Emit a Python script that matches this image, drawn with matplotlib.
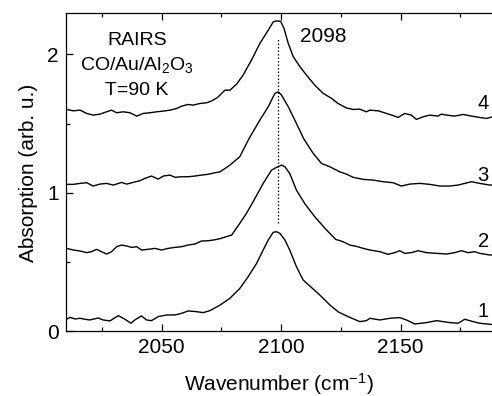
import matplotlib
matplotlib.use("Agg")
import matplotlib.pyplot as plt

plt.rcParams['font.family'] = ['Liberation Sans', 'DejaVu Sans']
plt.rcParams['mathtext.fontset'] = 'custom'
plt.rcParams['mathtext.rm'] = 'Liberation Sans'
plt.rcParams['mathtext.it'] = 'Liberation Sans:italic'

# spectra (wavenumber, absorption with offset)
wn1 = [2010.3, 2011.7, 2013.8, 2015.9, 2018.0, 2020.0, 2023.5, 2025.6, 2028.4, 2031.9,
       2034.7, 2037.2, 2038.8, 2041.6, 2043.7, 2045.8, 2048.6, 2052.1, 2055.6, 2058.4,
       2061.1, 2064.6, 2067.4, 2070.2, 2072.3, 2074.4, 2078.6, 2082.7, 2086.2, 2089.7,
       2092.5, 2094.6, 2096.7, 2098.1, 2099.5, 2101.6, 2103.6, 2106.4, 2109.2, 2112.0,
       2116.2, 2120.4, 2124.0, 2128.7, 2132.9, 2135.7, 2137.1, 2141.3, 2145.5, 2149.6,
       2152.4, 2155.9, 2160.8, 2165.0, 2170.5, 2174.0, 2176.8, 2180.3, 2183.1, 2187.3, 2188.5]
abs1 = [0.088, 0.102, 0.090, 0.095, 0.088, 0.083, 0.097, 0.083, 0.076, 0.114,
        0.088, 0.059, 0.083, 0.112, 0.083, 0.078, 0.107, 0.119, 0.119, 0.131,
        0.148, 0.143, 0.136, 0.150, 0.170, 0.190, 0.240, 0.310, 0.395, 0.490,
        0.588, 0.660, 0.716, 0.720, 0.708, 0.660, 0.588, 0.468, 0.372, 0.328,
        0.263, 0.191, 0.140, 0.102, 0.071, 0.078, 0.095, 0.083, 0.095, 0.100,
        0.083, 0.054, 0.064, 0.078, 0.064, 0.059, 0.088, 0.071, 0.059, 0.052, 0.050]

wn2 = [2010.3, 2013.1, 2015.9, 2018.7, 2020.7, 2022.8, 2024.9, 2027.0, 2029.1, 2031.2,
       2033.3, 2035.4, 2037.5, 2039.6, 2041.6, 2044.4, 2047.2, 2050.0, 2052.8, 2055.6,
       2058.4, 2061.1, 2063.9, 2066.7, 2069.5, 2072.3, 2074.4, 2079.3, 2082.7, 2085.5,
       2088.3, 2092.5, 2096.0, 2098.1, 2100.2, 2101.6, 2103.6, 2106.4, 2110.0, 2114.0,
       2118.3, 2122.8, 2125.9, 2128.7, 2132.0, 2134.3, 2137.1, 2141.3, 2144.7, 2147.5,
       2149.6, 2151.7, 2154.5, 2157.3, 2160.8, 2165.0, 2169.2, 2172.6, 2175.4, 2178.2,
       2181.0, 2183.1, 2187.3, 2188.5]
abs2 = [0.600, 0.588, 0.581, 0.569, 0.576, 0.593, 0.576, 0.559, 0.576, 0.612,
        0.624, 0.617, 0.607, 0.612, 0.588, 0.593, 0.600, 0.588, 0.600, 0.607,
        0.612, 0.624, 0.631, 0.653, 0.655, 0.662, 0.670, 0.696, 0.780, 0.853,
        0.937, 1.069, 1.165, 1.185, 1.201, 1.189, 1.141, 1.021, 0.920, 0.830,
        0.745, 0.665, 0.648, 0.624, 0.612, 0.600, 0.588, 0.576, 0.557, 0.569,
        0.583, 0.564, 0.569, 0.583, 0.569, 0.564, 0.559, 0.569, 0.583, 0.569,
        0.576, 0.564, 0.552, 0.552]

wn3 = [2010.3, 2013.1, 2015.9, 2018.7, 2021.4, 2024.2, 2027.0, 2029.8, 2033.3, 2035.4,
       2038.1, 2040.9, 2043.0, 2045.8, 2048.6, 2050.7, 2053.5, 2055.6, 2058.4, 2061.1,
       2063.9, 2066.7, 2069.5, 2072.3, 2074.4, 2078.6, 2082.7, 2086.5, 2091.1, 2094.6,
       2097.4, 2098.8, 2100.2, 2103.0, 2106.4, 2109.5, 2113.4, 2116.9, 2120.4, 2124.5,
       2127.3, 2130.1, 2134.3, 2138.5, 2142.7, 2146.8, 2150.3, 2153.8, 2158.0, 2162.2,
       2166.4, 2170.5, 2174.0, 2176.8, 2179.6, 2183.1, 2187.3, 2188.5]
abs3 = [1.062, 1.062, 1.069, 1.074, 1.050, 1.064, 1.069, 1.057, 1.076, 1.064,
        1.076, 1.088, 1.105, 1.122, 1.100, 1.122, 1.129, 1.113, 1.117, 1.117,
        1.122, 1.129, 1.135, 1.146, 1.152, 1.201, 1.261, 1.390, 1.526, 1.622,
        1.719, 1.730, 1.706, 1.622, 1.502, 1.390, 1.286, 1.213, 1.189, 1.153,
        1.136, 1.113, 1.098, 1.093, 1.081, 1.074, 1.050, 1.064, 1.069, 1.062,
        1.050, 1.050, 1.057, 1.069, 1.081, 1.069, 1.057, 1.057]

wn4 = [2010.3, 2013.1, 2015.9, 2018.7, 2021.4, 2024.2, 2027.0, 2029.1, 2031.2, 2034.0,
       2036.8, 2039.6, 2042.3, 2045.1, 2047.9, 2050.7, 2053.5, 2056.3, 2058.4, 2061.1,
       2063.2, 2066.0, 2068.8, 2070.9, 2073.3, 2076.5, 2078.6, 2081.4, 2084.1, 2087.6,
       2091.1, 2094.6, 2096.7, 2098.1, 2099.8, 2101.2, 2103.0, 2105.1, 2107.9, 2110.6,
       2114.1, 2117.6, 2121.1, 2123.8, 2127.3, 2130.1, 2132.9, 2135.7, 2137.1, 2140.6,
       2144.1, 2147.5, 2148.9, 2151.7, 2154.5, 2156.6, 2159.4, 2162.2, 2165.6, 2167.0,
       2169.2, 2172.6, 2176.1, 2179.6, 2183.1, 2185.9, 2188.5]
abs4 = [1.603, 1.593, 1.598, 1.574, 1.562, 1.569, 1.586, 1.598, 1.579, 1.586,
        1.579, 1.555, 1.574, 1.579, 1.586, 1.591, 1.598, 1.610, 1.627, 1.639,
        1.634, 1.646, 1.651, 1.664, 1.688, 1.742, 1.742, 1.786, 1.851, 1.959,
        2.079, 2.175, 2.235, 2.242, 2.240, 2.188, 2.079, 1.983, 1.911, 1.851,
        1.778, 1.719, 1.683, 1.646, 1.614, 1.603, 1.605, 1.586, 1.598, 1.593,
        1.574, 1.555, 1.545, 1.574, 1.562, 1.531, 1.550, 1.562, 1.555, 1.569,
        1.562, 1.555, 1.567, 1.555, 1.545, 1.538, 1.550]

curve_labels = ['1', '2', '3', '4']
label_y = [0.141, 0.646, 1.127, 1.646]
peak_pos = 2098.7
peak_text = '2098'

fig = plt.figure(figsize=(4.92, 3.96), dpi=100)
ax = fig.add_axes([0.134, 0.163, 0.866, 0.803])

for wn, a in [(wn1, abs1), (wn2, abs2), (wn3, abs3), (wn4, abs4)]:
    ax.plot(wn, a, color='black', lw=1.0)

ax.plot([peak_pos, peak_pos], [0.78, 2.115], color='black', lw=0.9, ls=(0, (1.2, 1.6)))

for lab, yy in zip(curve_labels, label_y):
    ax.text(2186.8, yy, lab, ha='right', va='center', fontsize=14.5)

ax.text(2107.8, 2.087, peak_text, ha='left', va='baseline', fontsize=15)

ax.text(2039.7, 2.067, 'RAIRS', ha='center', va='baseline', fontsize=14)
ax.text(2039.7, 1.887, 'CO/Au/Al$_2$O$_3$', ha='center', va='baseline', fontsize=14)
ax.text(2039.7, 1.706, 'T=90 K', ha='center', va='baseline', fontsize=14)

ax.set_xlim(2010, 2188.2)
ax.set_ylim(0, 2.296)
ax.set_xticks([2050, 2100, 2150])
ax.set_xticks([2025, 2075, 2125, 2175], minor=True)
ax.set_yticks([0, 1, 2])
ax.set_yticks([0.5, 1.5], minor=True)
ax.tick_params(which='both', direction='in', top=True, right=False,
               labelsize=15, width=0.9, pad=5)
ax.tick_params(which='major', length=5)
ax.tick_params(which='minor', length=3)
ax.spines['right'].set_visible(False)
for s in ['left', 'bottom', 'top']:
    ax.spines[s].set_linewidth(0.9)

ax.set_xlabel('Wavenumber (cm$^{-1}$)', fontsize=15, labelpad=10)
ax.set_ylabel('Absorption (arb. u.)', fontsize=15, labelpad=7)

fig.savefig('out.png', dpi=100)
